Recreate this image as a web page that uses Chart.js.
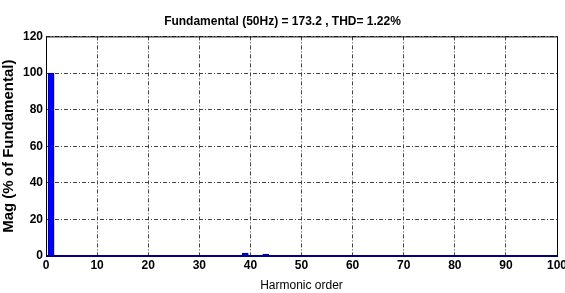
<!DOCTYPE html>
<html>
<head>
<meta charset="utf-8">
<script src="https://cdn.jsdelivr.net/npm/chart.js@4"></script>
<style>
  html, body { margin: 0; padding: 0; background: #fff; }
  #wrap { width: 565px; height: 293px; }
</style>
</head>
<body>
<div id="wrap"><canvas id="grafica" width="565" height="293"></canvas></div>
<script>
// datos
const ordenes = [1, 39, 43];
const magnitudes = [100, 1.6, 1.1];
const ticksX = [0, 10, 20, 30, 40, 50, 60, 70, 80, 90, 100];
const ticksY = [0, 20, 40, 60, 80, 100, 120];
const titulo = 'Fundamental (50Hz) = 173.2 , THD= 1.22%';

const fuenteAngosta = "'Liberation Sans Narrow', 'Arial Narrow', 'Liberation Sans', sans-serif";

// marco del area de grafico
const marco = {
    id: 'marco',
    afterDraw(chart) {
        const a = chart.chartArea;
        const ctx = chart.ctx;
        ctx.save();
        ctx.strokeStyle = '#000';
        ctx.lineWidth = 1;
        ctx.strokeRect(a.left + 0.5, a.top + 0.5, a.right - a.left, a.bottom - a.top);
        ctx.strokeStyle = '#000080';
        ctx.lineWidth = 2;
        ctx.beginPath();
        ctx.moveTo(a.left, a.bottom);
        ctx.lineTo(a.right, a.bottom);
        ctx.stroke();
        ctx.restore();
    }
};

new Chart(document.getElementById('grafica').getContext('2d'), {
    type: 'bar',
    data: {
        datasets: [{
            data: ordenes.map((o, i) => ({ x: o, y: magnitudes[i] })),
            backgroundColor: '#0000ff',
            borderColor: '#00008b',
            borderWidth: 1,
            barThickness: 6
        }]
    },
    options: {
        responsive: false,
        animation: false,
        layout: { padding: { left: 0, right: 0, top: 0, bottom: 0 } },
        plugins: {
            legend: { display: false },
            tooltip: { enabled: false },
            title: {
                display: true,
                text: titulo,
                color: '#000',
                font: { family: fuenteAngosta, size: 12, weight: 'bold' },
                padding: { top: 14, bottom: 8 }
            }
        },
        scales: {
            x: {
                type: 'linear',
                offset: false,
                min: 0,
                max: 100,
                afterBuildTicks: s => { s.ticks = ticksX.map(v => ({ value: v })); },
                afterFit: s => { s.height = 37; s.paddingRight = 8; s.paddingLeft = 0; },
                ticks: {
                    color: '#000',
                    padding: 2,
                    maxRotation: 0,
                    font: { family: fuenteAngosta, size: 12, weight: 'bold' }
                },
                grid: { color: '#444', lineWidth: 1, drawTicks: false, offset: false },
                border: { display: false, dash: [4, 2, 1, 2] },
                title: {
                    display: true,
                    text: 'Harmonic order',
                    color: '#000',
                    padding: { top: 5, bottom: 0 },
                    font: { family: "'Liberation Sans', Arial, sans-serif", size: 12 }
                }
            },
            y: {
                min: 0,
                max: 120,
                afterBuildTicks: s => { s.ticks = ticksY.map(v => ({ value: v })); },
                afterFit: s => { s.width = 46; },
                ticks: {
                    color: '#000',
                    padding: 3,
                    font: { family: fuenteAngosta, size: 12, weight: 'bold' }
                },
                grid: { color: '#444', lineWidth: 1, drawTicks: false },
                border: { display: false, dash: [4, 2, 1, 2] },
                title: {
                    display: true,
                    text: 'Mag (% of Fundamental)',
                    color: '#000',
                    padding: { top: 0, bottom: 1 },
                    font: { family: "'Liberation Sans', Arial, sans-serif", size: 15, weight: 'bold' }
                }
            }
        }
    },
    plugins: [marco]
});
</script>
</body>
</html>
